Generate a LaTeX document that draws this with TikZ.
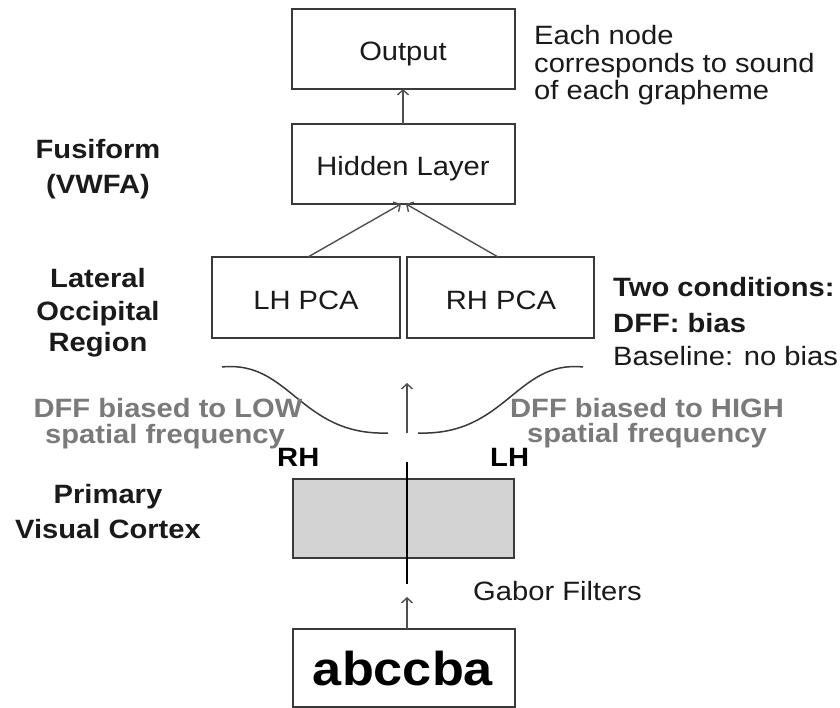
\documentclass[tikz,border=0pt]{standalone}
\usepackage{fontspec}
\setmainfont[FakeStretch=1.1]{Liberation Sans}
\usetikzlibrary{arrows.meta}
\definecolor{boxline}{HTML}{3A3A3A}
\definecolor{txt}{HTML}{1A1A1A}
\definecolor{graytxt}{HTML}{7A7A7A}
\definecolor{arrowc}{HTML}{505050}
\definecolor{cortex}{HTML}{D3D3D3}
\tikzset{
  lbl/.style={inner sep=0pt, anchor=base, text=txt, font=\fontsize{26.5}{30}\selectfont},
  blbl/.style={lbl, font=\fontsize{26.5}{30}\selectfont\bfseries},
  glbl/.style={blbl, text=graytxt},
  layerbox/.style={draw=boxline, line width=2pt},
  upar/.style={draw=arrowc, line width=1.4pt, -{Straight Barb[length=5pt,width=11pt,line width=1.4pt]}},
  sigm/.style={draw=boxline, line width=1.5pt},
}
\begin{document}
\begin{tikzpicture}[x=1pt,y=-1pt]
\useasboundingbox (0,0) rectangle (840,708);
\fill[white] (0,0) rectangle (840,708);

% boxes
\draw[layerbox] (292,9) rectangle (515,89);
\coordinate (outB) at (403,89);
\draw[layerbox] (292,124) rectangle (515,204);
\coordinate (hidT) at (403,124);
\coordinate (hidB1) at (401,204);
\coordinate (hidB2) at (406,204);
\draw[layerbox] (212,257) rectangle (400,338);
\draw[layerbox] (407,257) rectangle (594,338);
\coordinate (lhT) at (308,257);
\coordinate (rhT) at (498,257);
\draw[layerbox, fill=cortex] (293,479) rectangle (514,558);
\draw[layerbox] (293,629) rectangle (515,707);
\coordinate (inT) at (407,629);
\coordinate (gabT) at (407,597);

% box texts
\node[lbl] (out) at (403,61) {Output};
\node[lbl] (hid) at (403,176) {Hidden Layer};
\node[lbl] (lhpca) at (306,309) {LH PCA};
\node[lbl] (rhpca) at (501,309) {RH PCA};
\node[lbl, font=\fontsize{47.5}{50}\selectfont\bfseries, text=black] (abc) at (403,685) {abccba};

% arrows
\draw[upar] (hidT) -- (outB);
\draw[upar] (lhT) -- (hidB1);
\draw[upar] (rhT) -- (hidB2);
\coordinate (midB) at (407,433);
\coordinate (midT) at (407,383);
\draw[upar] (midB) -- (midT);
\draw[upar] (inT) -- (gabT);

% hemisphere divider
\coordinate (divT) at (407,462);
\coordinate (divB) at (407,584);
\draw[black, line width=2.8pt] (divT) -- (divB);

% sigmoid curves
\draw[sigm] (222,367) .. controls (290,360) and (300,436) .. (388,433);
\draw[sigm] (418,433) .. controls (506,436) and (516,360) .. (583,367);

% left labels
\node[blbl] (fus1) at (98,159) {Fusiform};
\node[blbl] (fus2) at (98,194) {(VWFA)};
\node[blbl] (lat1) at (98,288) {Lateral};
\node[blbl] (lat2) at (98,320) {Occipital};
\node[blbl] (lat3) at (98,351) {Region};
\node[blbl] (pri1) at (108,503) {Primary};
\node[blbl] (pri2) at (108,538) {Visual Cortex};

% DFF labels
\node[glbl] (low1) at (168,417) {DFF biased to LOW};
\node[glbl] (low2) at (165,443) {spatial frequency};
\node[glbl] (high1) at (647,417) {DFF biased to HIGH};
\node[glbl] (high2) at (647,442) {spatial frequency};
\node[blbl, anchor=base west, text=black] (rh) at (277,466) {RH};
\node[blbl, anchor=base west, text=black] (lh) at (490,466) {LH};

% right notes
\node[lbl, anchor=base west] (each1) at (534,45) {Each node};
\node[lbl, anchor=base west] (each2) at (534,73) {corresponds to sound};
\node[lbl, anchor=base west] (each3) at (534,100) {of each grapheme};
\node[blbl, anchor=base west] (two1) at (613,297) {Two conditions:};
\node[blbl, anchor=base west] (two2) at (613,333) {DFF: bias};
\node[lbl, anchor=base west] (two3) at (613,365) {Baseline: no bias};
\node[lbl, anchor=base west] (gab) at (473,600) {Gabor Filters};
\end{tikzpicture}
\end{document}
